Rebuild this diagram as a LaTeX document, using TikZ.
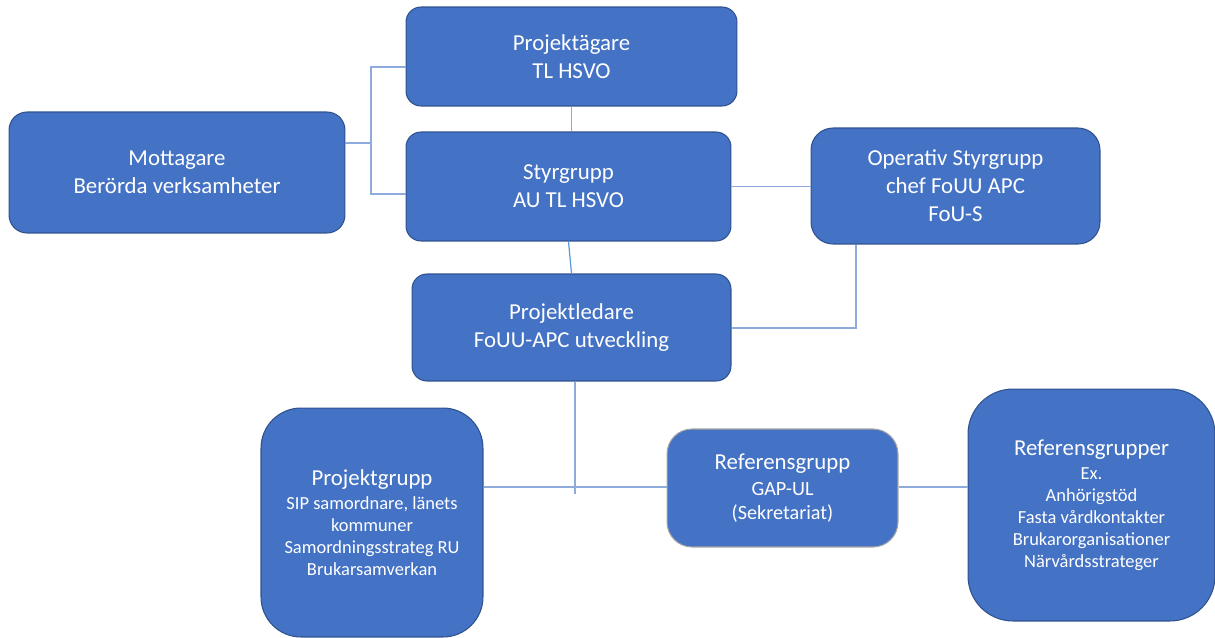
\documentclass[tikz,border=0pt]{standalone}
\usepackage{fontspec}
\setmainfont{Carlito}
\usepackage{tikz}
\usetikzlibrary{positioning}
\definecolor{boxblue}{HTML}{4472C4}
\definecolor{boxedge}{HTML}{2F528F}
\definecolor{grayedge}{HTML}{A5A5A5}
\definecolor{linkblue}{HTML}{8FAADC}
\definecolor{brightblue}{HTML}{5B9BD5}
\newcommand{\bigtext}{\fontsize{13}{16}\selectfont}
\newcommand{\smalltext}{\fontsize{10.5}{12.5}\selectfont}
\newcommand{\midtext}{\fontsize{11.5}{13.6}\selectfont}
\tikzset{orgbox/.style = {draw=boxedge, fill=boxblue, line width=0.6pt,
                          text=white, align=center, inner sep=0pt,
                          rounded corners=0.3cm, font=\bigtext}}
\tikzset{link/.style = {draw=linkblue, line width=0.6pt}}
\tikzset{brightlink/.style = {draw=brightblue, line width=0.7pt}}

\begin{document}
\begin{tikzpicture}[x=0.02cm, y=-0.02cm]
    \useasboundingbox (0, 0) rectangle (1215, 637);

    \node [orgbox, minimum width=6.62cm, minimum height=1.98cm] (agare) at (571.5, 56.5)
        {Projektägare\\TL HSVO};
    \node [orgbox, minimum width=6.5cm, minimum height=2.18cm] (styr) at (568.5, 186.5)
        {Styrgrupp\\AU TL HSVO};
    \node [orgbox, minimum width=6.72cm, minimum height=2.42cm, rounded corners=0.36cm] (mottagare) at (177, 172.5)
        {Mottagare\\Berörda verksamheter};
    \node [orgbox, minimum width=5.78cm, minimum height=2.32cm, rounded corners=0.44cm] (oper) at (955.5, 186)
        {Operativ Styrgrupp\\chef FoUU APC\\FoU-S};
    \node [orgbox, minimum width=6.38cm, minimum height=2.14cm] (ledare) at (571.5, 327.5)
        {Projektledare\\FoUU-APC utveckling};
    \node [orgbox, font=\smalltext, minimum width=4.44cm, minimum height=4.58cm, rounded corners=0.8cm] (grupp) at (372, 522.5)
        {\bigtext Projektgrupp\\[1.5pt] SIP samordnare, länets\\kommuner\\Samordningsstrateg RU\\Brukarsamverkan};
    \node [orgbox, font=\midtext, draw=grayedge, minimum width=4.62cm, minimum height=2.36cm, rounded corners=0.5cm] (refg) at (782.5, 488)
        {\bigtext Referensgrupp\\[1.5pt] GAP-UL\\(Sekretariat)};
    \node [orgbox, font=\smalltext, minimum width=4.94cm, minimum height=4.64cm, rounded corners=0.9cm] (refgr) at (1091.5, 505)
        {\bigtext Referensgrupper\\[1.5pt] Ex.\\Anhörigstöd\\Fasta vårdkontakter\\Brukarorganisationer\\Närvårdsstrateger};

    % upper left fork
    \coordinate (mjoin) at (371, 143);
    \coordinate (mtop) at (371, 67);
    \coordinate (mbot) at (371, 194);
    \draw [link] (mottagare.east |- mjoin) -- (mjoin);
    \draw [link] (mtop -| agare.west) -- (mtop) -- (mbot) -- (mbot -| styr.west);

    \draw [link] (agare.south) -- (agare.south |- styr.north);
    \draw [link] (styr.east) -- (styr.east -| oper.west);
    \draw [brightlink] (styr.south) -- (ledare.north);

    \coordinate (okink) at (856, 328);
    \draw [link] (oper.south -| okink) -- (okink) -- (okink -| ledare.east);

    % lower T
    \coordinate (tjoin) at (575, 487);
    \coordinate (tend) at (575, 494);
    \draw [link] (ledare.south -| tend) -- (tend);
    \draw [link] (grupp.east |- tjoin) -- (tjoin) -- (tjoin -| refg.west);
    \draw [link] (refg.east |- tjoin) -- (tjoin -| refgr.west);
\end{tikzpicture}
\end{document}
